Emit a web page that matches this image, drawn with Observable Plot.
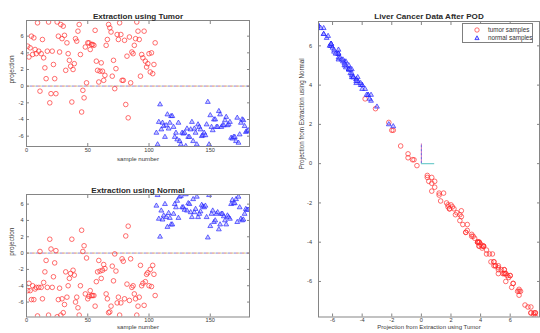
<!DOCTYPE html>
<html><head><meta charset="utf-8">
<script src="https://cdn.jsdelivr.net/npm/d3@7"></script>
<script src="https://cdn.jsdelivr.net/npm/@observablehq/plot@0.6"></script>
<style>
body{margin:0;background:#fff;}
#wrap{position:relative;width:540px;height:333px;overflow:hidden;background:#fff;font-family:"Liberation Sans",Arial,Helvetica,sans-serif;}
#wrap .panel{position:absolute;}
#legend{position:absolute;left:462px;top:23px;width:71px;height:20px;border:1px solid #7f7f7f;background:#fff;font-size:6.3px;color:#333;box-sizing:border-box;}
#legend .row{position:absolute;left:0;height:8px;line-height:8px;white-space:nowrap;}
#legend svg{position:absolute;left:10px;top:0;}
#legend span{position:absolute;left:25px;top:0;}
</style></head><body><div id="wrap"></div>
<script>
// ---- data ----
const nTumor = 105; // samples 1..105 are tumor samples, 106..181 normal samples
const tumorProj = [
  4.8, 3.5, 4.6, 6.0, 3.8, 5.8, 4.4, 3.9, 7.6, 4.2,
  -0.6, 3.9, 5.6, 3.4, 2.2, 0.9, 4.2, 7.7, -2.0, -0.9,
  4.2, 2.6, 0.9, -0.9, 7.7, 6.0, 4.1, 7.4, 5.7, 7.2,
  6.1, 1.9, 5.2, 3.9, 3.1, 2.4, -1.9, 2.0, 2.7, 5.7,
  5.4, 6.6, 7.4, 3.8, -3.1, -0.5, -1.4, 4.7, 0.4, 5.2,
  5.2, 4.4, 5.0, 5.0, 4.9, 6.7, 3.0, 1.9, 0.5, 1.8,
  2.8, 1.8, 0.7, 1.3, 4.9, 5.6, 7.4, 7.0, 6.5, 1.2,
  3.1, -0.3, 2.1, 6.2, 5.6, 7.6, 6.2, 0.7, 0.7, 5.5,
  -2.2, 3.6, -3.8, 5.9, 0.4, 4.1, 3.9, 4.9, 5.7, 7.7,
  6.6, 5.6, 1.2, 3.8, 3.4, 6.6, 3.0, 2.3, 2.7, 3.9,
  1.7, 4.0, 1.5, 2.6, 5.2,
  -5.6, -7.0, -4.3, -2.2, -5.2, -4.4, -4.8, -6.1, -4.7, -3.4,
  -5.1, -4.4, -3.6, -3.6, -4.9, -6.1, -5.6, -6.4, -4.4, -6.6,
  -7.0, -5.6, -5.7, -5.6, -7.2, -5.1, -6.1, -6.1, -5.2, -4.3,
  -6.6, -5.1, -5.6, -7.0, -4.6, -4.9, -5.2, -6.0, -5.9, -5.6,
  -5.9, -4.6, -1.9, -7.0, -3.5, -4.9, -5.3, -4.0, -4.0, -4.9,
  -4.9, -3.0, -3.4, -4.9, -4.7, -4.7, -4.1, -3.7, -4.7, -4.6,
  -4.3, -6.2, -6.3, -6.1, -6.1, -6.6, -3.8, -6.8, -5.8, -4.4,
  -4.0, -4.1, -4.8, -5.5, -5.4, -5.3
];
const normalProj = [
  -4.6, -3.7, -4.6, -5.7, -4.0, -5.7, -4.4, -4.2, -7.7, -4.2,
  0.2, -4.2, -5.6, -3.6, -2.3, -0.9, -4.2, -7.6, 1.7, 0.5,
  -4.2, -2.9, -1.2, 0.3, -7.8, -5.7, -4.3, -7.6, -5.6, -7.3,
  -6.3, -2.3, -5.4, -4.0, -3.1, -2.5, 1.7, -2.1, -2.7, -6.0,
  -5.4, -6.7, -7.6, -4.0, 2.8, 0.2, 0.9, -5.0, -0.6, -5.6,
  -5.3, -4.6, -5.2, -5.2, -5.2, -6.5, -3.5, -2.3, -0.9, -2.2,
  -3.1, -2.1, -1.4, -1.9, -5.0, -5.6, -7.3, -7.2, -6.5, -1.6,
  -3.4, -0.1, -2.2, -6.1, -5.4, -7.6, -6.1, -0.7, -1.0, -5.6,
  2.1, -3.8, 3.3, -5.8, -0.7, -4.2, -4.0, -5.0, -5.6, -7.6,
  -6.5, -5.4, -1.5, -4.0, -3.7, -6.4, -3.5, -2.6, -2.4, -4.0,
  -2.0, -4.1, -1.5, -2.6, -5.2,
  5.8, 7.1, 4.2, 2.0, 5.2, 4.1, 4.6, 6.0, 4.4, 3.2,
  4.9, 4.3, 3.5, 3.5, 4.8, 6.0, 5.6, 6.4, 4.3, 6.9,
  7.0, 5.6, 5.6, 5.3, 7.2, 5.2, 6.1, 6.0, 5.0, 4.4,
  6.6, 5.0, 5.4, 6.9, 4.4, 4.8, 5.1, 5.9, 5.7, 5.6,
  5.8, 4.4, 1.9, 7.1, 3.3, 4.8, 5.2, 3.8, 4.0, 4.8,
  5.0, 2.9, 3.5, 4.8, 4.8, 4.5, 4.0, 3.5, 4.6, 4.4,
  4.2, 6.0, 6.5, 6.1, 6.1, 6.6, 3.8, 6.9, 5.6, 4.2,
  4.0, 4.1, 4.8, 5.4, 5.3, 5.3
];
const groupNames = ["tumor samples", "normal samples"];
const sampleTicks = [0, 50, 100, 150];
const projTicks = [-6, -4, -2, 0, 2, 4, 6];
const sampleDomain = [0, 182];
const tumorDomain = [-7.24, 7.88];
const normalDomain = [-7.83, 7.18];
const scatterXDomain = [-6.95, 7.98];
const scatterYDomain = [-7.81, 7.24];
const originX = [0, 0.9];   // short reference lines at the origin of the POD plot
const originY = [0, 1.0];

// ---- table ----
const samples = tumorProj.map((t, i) => ({
  sample: i + 1, tumor: t, normal: normalProj[i], group: i < nTumor ? groupNames[0] : groupNames[1]
}));
const tumorRows = samples.filter(d => d.group === groupNames[0]);
const normalRows = samples.filter(d => d.group === groupNames[1]);

const FONT = '"Liberation Sans", Arial, Helvetica, sans-serif';
const RED = "#ff2a2a", BLUE = "#1c1cff", FRAME = "#858585", TXT = "#3a3a3a";
const fmt = d => String(d);

function boxMarks(xTicks, yTicks, xPad, yPad) {
  return [
    Plot.frame({stroke: FRAME, strokeWidth: 1}),
    Plot.axisX(xTicks, {anchor: "bottom", tickSize: -3, fill: "none", stroke: FRAME, label: null}),
    Plot.axisX(xTicks, {anchor: "top", tickSize: -3, fill: "none", stroke: FRAME, label: null}),
    Plot.axisY(yTicks, {anchor: "left", tickSize: -3, fill: "none", stroke: FRAME, label: null}),
    Plot.axisY(yTicks, {anchor: "right", tickSize: -3, fill: "none", stroke: FRAME, label: null}),
    Plot.axisX(xTicks, {anchor: "bottom", tickSize: 0, tickPadding: xPad, tickFormat: fmt, fontSize: 5.6, fill: TXT, label: null}),
    Plot.axisY(yTicks, {anchor: "left", tickSize: 0, tickPadding: yPad, tickFormat: fmt, fontSize: 5.6, fill: TXT, label: null})
  ];
}
function zeroLine() {
  return [
    Plot.ruleY([0], {stroke: "#d4cfcc", strokeWidth: 1.2}),
    Plot.ruleY([0], {stroke: "#f0a8a8", strokeWidth: 1.2, strokeDasharray: "2,4"}),
    Plot.ruleY([0], {stroke: "#b0b0f0", strokeWidth: 1.2, strokeDasharray: "2,4", strokeDashoffset: 2}),
    Plot.ruleY([0], {stroke: "#e6e49a", strokeWidth: 1.2, strokeDasharray: "1,5", strokeDashoffset: 4})
  ];
}
function samplePanel(key, yDomain, title, xPad, xLabelDy) {
  return Plot.plot({
    width: 255, height: key === "tumor" ? 170 : 163,
    marginLeft: 26, marginRight: 6,
    marginTop: key === "tumor" ? 20 : 24,
    marginBottom: key === "tumor" ? 24 : 16.5,
    style: {fontFamily: FONT, background: "transparent", overflow: "visible"},
    x: {domain: sampleDomain, axis: null},
    y: {domain: yDomain, axis: null},
    marks: [
      zeroLine(),
      Plot.dot(tumorRows, {x: "sample", y: key, r: 2.3, stroke: RED, strokeWidth: 0.85, strokeOpacity: 0.8, clip: true}),
      Plot.dot(normalRows, {x: "sample", y: key, symbol: "triangle", r: 1.8, stroke: BLUE, strokeWidth: 0.75, strokeOpacity: 0.85, fill: "#9090ff", fillOpacity: 0.5, clip: true}),
      boxMarks(sampleTicks, projTicks, xPad, 3),
      Plot.text([title], {text: d => d, frameAnchor: "top", dy: -7.5, fontSize: 8.1, fontWeight: "bold", fill: "#2a2a2a"}),
      Plot.text(["sample number"], {text: d => d, frameAnchor: "bottom", dy: xLabelDy, fontSize: 6.1, fill: TXT}),
      Plot.text(["projection"], {text: d => d, frameAnchor: "left", dx: -14.5, rotate: -90, fontSize: 6.5, fill: TXT})
    ]
  });
}

const wrap = document.getElementById("wrap");
function place(node, left, top) {
  node.classList.add("panel");
  node.style.left = left + "px";
  node.style.top = top + "px";
  wrap.appendChild(node);
}

place(samplePanel("tumor", tumorDomain, "Extraction using Tumor", 2, 14.7), 0, 0);
place(samplePanel("normal", normalDomain, "Extraction using Normal", 1.5, 12.3), 0, 170);

const scatter = Plot.plot({
  width: 260, height: 333,
  marginLeft: 38, marginRight: 1, marginTop: 21, marginBottom: 16.5,
  style: {fontFamily: FONT, background: "transparent", overflow: "visible"},
  x: {domain: scatterXDomain, axis: null},
  y: {domain: scatterYDomain, axis: null},
  marks: [
    Plot.dot(tumorRows, {x: "tumor", y: "normal", r: 2.3, stroke: RED, strokeWidth: 0.85, strokeOpacity: 0.8, clip: true}),
    Plot.dot(normalRows, {x: "tumor", y: "normal", symbol: "triangle", r: 1.8, stroke: BLUE, strokeWidth: 0.75, strokeOpacity: 0.85, fill: "#9090ff", fillOpacity: 0.5, clip: true}),
    Plot.ruleX([originX[0]], {y1: originY[0], y2: originY[1], stroke: "#d070c0", strokeWidth: 1}),
    Plot.ruleX([originX[0]], {y1: originY[0], y2: originY[1], stroke: "#7070e0", strokeWidth: 1, strokeDasharray: "2,2"}),
    Plot.ruleY([originY[0]], {x1: originX[0], x2: originX[1], stroke: "#70cccc", strokeWidth: 1.2}),
    boxMarks(projTicks, projTicks, 1.5, 6.5),
    Plot.text(["Liver Cancer Data After POD"], {text: d => d, frameAnchor: "top", dy: -8, fontSize: 8.1, fontWeight: "bold", fill: "#2a2a2a"}),
    Plot.text(["Projection from Extraction using Tumor"], {text: d => d, frameAnchor: "bottom", dy: 12.3, fontSize: 6.0, fill: TXT}),
    Plot.text(["Projection from Extraction using Normal"], {text: d => d, frameAnchor: "left", dx: -16.3, rotate: -90, fontSize: 6.3, fill: TXT})
  ]
});
place(scatter, 280, 0);

// legend
const legend = document.createElement("div");
legend.id = "legend";
groupNames.forEach((name, i) => {
  const row = document.createElement("div");
  row.className = "row";
  row.style.top = (2 + i * 8) + "px";
  row.style.width = "100%";
  const sym = i === 0
    ? `<svg width="8" height="8"><circle cx="4" cy="4" r="2.2" fill="none" stroke="${RED}" stroke-width="0.85" stroke-opacity="0.8"/></svg>`
    : `<svg width="8" height="8"><path d="M4,1.8L6.1,5.6L1.9,5.6Z" fill="#9090ff" fill-opacity="0.5" stroke="${BLUE}" stroke-width="0.75"/></svg>`;
  row.innerHTML = sym + `<span>${name}</span>`;
  legend.appendChild(row);
});
wrap.appendChild(legend);
</script>
</body></html>
